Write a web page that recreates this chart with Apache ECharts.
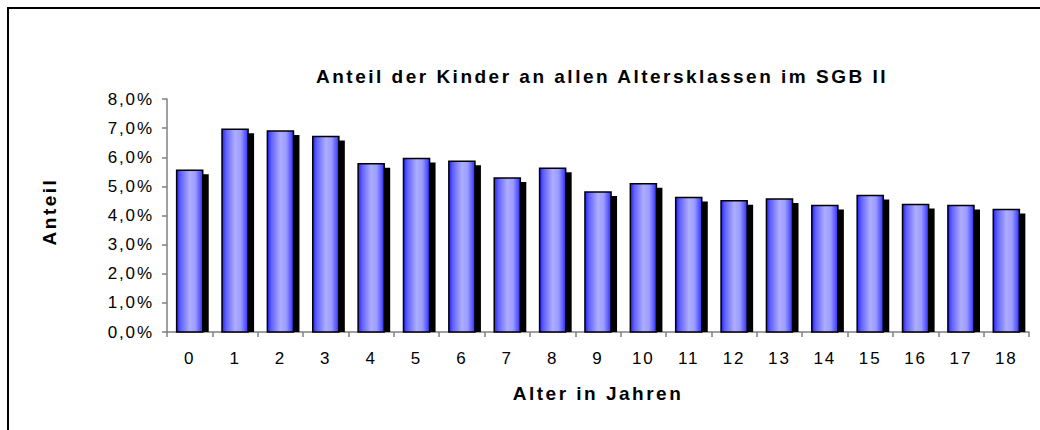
<!DOCTYPE html>
<html>
<head>
<meta charset="utf-8">
<script src="https://cdn.jsdelivr.net/npm/echarts@6/dist/echarts.min.js"></script>
<style>
  html, body { margin: 0; padding: 0; background: #fff; }
  #chart { width: 1040px; height: 430px; }
  #chart text { letter-spacing: 1.9px; }
  #chart text[style*="bold"] { letter-spacing: 2.5px; }
</style>
</head>
<body>
<div id="chart"></div>
<script>
const titleText = 'Anteil der Kinder an allen Altersklassen im SGB II';
const xAxisTitle = 'Alter in Jahren';
const yAxisTitle = 'Anteil';
const categories = ['0','1','2','3','4','5','6','7','8','9','10','11','12','13','14','15','16','17','18'];
const shares = [5.55, 6.96, 6.90, 6.71, 5.78, 5.96, 5.86, 5.29, 5.62, 4.81, 5.09, 4.62, 4.51, 4.57, 4.34, 4.69, 4.38, 4.34, 4.21];
const yMin = 0, yMax = 8, yStep = 1;

const FONT = '"Liberation Sans", Arial, sans-serif';
const chart = echarts.init(document.getElementById('chart'), null, { renderer: 'svg' });

const barFill = new echarts.graphic.LinearGradient(0, 0, 1, 0, [
  { offset: 0, color: '#2020ff' },
  { offset: 0.15, color: '#6060ff' },
  { offset: 0.5, color: '#adadff' },
  { offset: 0.72, color: '#9c9cff' },
  { offset: 1, color: '#3030ff' }
]);

chart.setOption({
  animation: false,
  backgroundColor: '#fff',
  title: {
    text: titleText,
    left: 602, top: 67, textAlign: 'center', padding: 0,
    textStyle: { fontFamily: FONT, fontSize: 19, fontWeight: 'bold', color: '#000' }
  },
  graphic: [{
    type: 'rect', silent: true,
    shape: { x: 8, y: 8, width: 1060, height: 460 },
    style: { fill: 'none', stroke: '#000', lineWidth: 2 }
  }],
  grid: { left: 167, right: 11, top: 99, bottom: 98, containLabel: false },
  xAxis: {
    type: 'category',
    data: categories,
    name: xAxisTitle,
    nameLocation: 'middle',
    nameGap: 52,
    nameTextStyle: { fontFamily: FONT, fontSize: 19, fontWeight: 'bold', color: '#000' },
    axisLine: { lineStyle: { color: '#808080', width: 1.5 } },
    axisTick: { show: true, length: 5, alignWithLabel: false, lineStyle: { color: '#808080', width: 1.5 } },
    axisLabel: { interval: 0, margin: 18, fontFamily: FONT, fontSize: 17, color: '#000' },
    splitLine: { show: false }
  },
  yAxis: {
    type: 'value',
    min: yMin, max: yMax, interval: yStep,
    name: yAxisTitle,
    nameLocation: 'middle',
    nameGap: 108,
    nameRotate: 90,
    nameTextStyle: { fontFamily: FONT, fontSize: 19, fontWeight: 'bold', color: '#000', padding: [0, 0, 0, 8] },
    axisLine: { show: true, lineStyle: { color: '#808080', width: 1.5 } },
    axisTick: { show: true, length: 5, lineStyle: { color: '#808080', width: 1.5 } },
    axisLabel: {
      margin: 13, fontFamily: FONT, fontSize: 17, color: '#000',
      formatter: v => v.toFixed(1).replace('.', ',') + '%'
    },
    splitLine: { show: false }
  },
  series: [{
    type: 'custom',
    data: shares.map((v, i) => [i, v]),
    encode: { x: 0, y: 1 },
    renderItem: function (params, api) {
      const idx = api.value(0);
      const top = api.coord([idx, api.value(1)]);
      const base = api.coord([idx, 0]);
      const band = api.size([1, 0])[0];
      const w = band * 0.575;
      const x0 = top[0] - w / 2;
      const h = base[1] - top[1];
      return {
        type: 'group',
        children: [
          { type: 'rect', shape: { x: x0 + 6, y: top[1] + 4, width: w, height: h - 4 }, style: { fill: '#000' } },
          { type: 'rect', shape: { x: x0, y: top[1], width: w, height: h }, style: { fill: barFill, stroke: '#000', lineWidth: 1.5 } }
        ]
      };
    }
  }]
});
</script>
</body>
</html>
